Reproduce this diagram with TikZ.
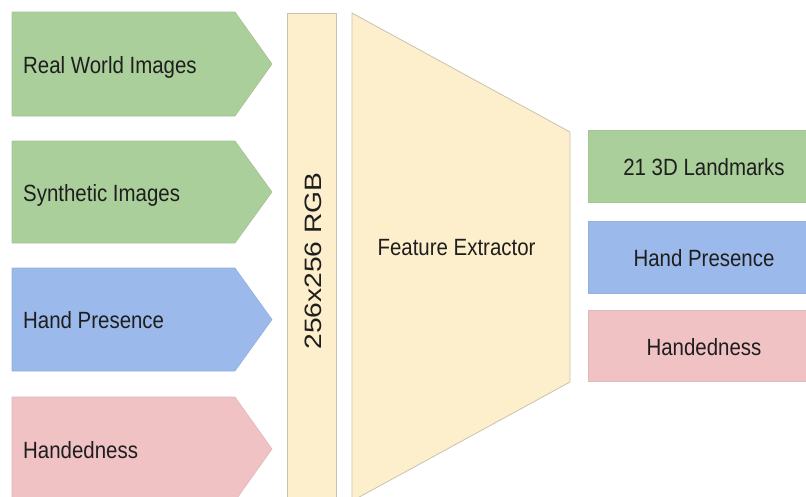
\documentclass[tikz,border=0pt]{standalone}
\usepackage{fontspec}
\setmainfont{Liberation Sans}
\usepackage{graphicx}
\definecolor{gfill}{HTML}{AACF9B}
\definecolor{bfill}{HTML}{9BB9EA}
\definecolor{pfill}{HTML}{F0C2C4}
\definecolor{yfill}{HTML}{FDEFCC}
\definecolor{yedge}{HTML}{C9C2B0}
\definecolor{textc}{HTML}{1E1E1E}
\newcommand\nrw[1]{\scalebox{0.87}[1]{#1}}
\begin{document}
\begin{tikzpicture}[x=1pt,y=-1pt,
  garrow/.style={fill=gfill,draw=gfill!85!gray,line width=0.6pt},
  barrow/.style={fill=bfill,draw=bfill!85!gray,line width=0.6pt},
  parrow/.style={fill=pfill,draw=pfill!85!gray,line width=0.6pt},
  yshape/.style={fill=yfill,draw=yedge,line width=0.8pt},
  lbl/.style={font=\fontsize{23.5}{28}\selectfont,text=textc,inner sep=0pt}]
\useasboundingbox (0,0) rectangle (806,496);
\clip (0,0) rectangle (806,496);
% input arrows
\path[garrow] (12,12) -- (235,12) -- (272,64) -- (235,116) -- (12,116) -- cycle;
\path[garrow] (12,141) -- (235,141) -- (272,192) -- (235,243) -- (12,243) -- cycle;
\path[barrow] (12,268) -- (235,268) -- (272,319.5) -- (235,371) -- (12,371) -- cycle;
\path[parrow] (12,397) -- (235,397) -- (272,449) -- (235,501) -- (12,501) -- cycle;
\node[lbl,anchor=base west] (t1) at (23,73) {\nrw{Real World Images}};
\node[lbl,anchor=base west] (t2) at (23,201) {\nrw{Synthetic Images}};
\node[lbl,anchor=base west] (t3) at (23,328.5) {\nrw{Hand Presence}};
\node[lbl,anchor=base west] (t4) at (23,458) {\nrw{Handedness}};
% RGB bar
\path[yshape] (287,13) rectangle (336,510);
\node[lbl,rotate=90,font=\fontsize{28.2}{32}\selectfont] (rgb) at (313.5,261) {\scalebox{1}[0.84]{256x256 RGB}};
% feature extractor
\path[yshape] (352,13) -- (570,132) -- (570,382) -- (352,501) -- cycle;
\node[lbl,anchor=base] (fe) at (456.5,255) {\nrw{Feature Extractor}};
% outputs
\path[garrow] (588,130) rectangle (820,202);
\path[barrow] (588,221) rectangle (820,293);
\path[parrow] (588,310) rectangle (820,381);
\node[lbl,anchor=base] (o1) at (704,175) {\nrw{21 3D Landmarks}};
\node[lbl,anchor=base] (o2) at (704,266) {\nrw{Hand Presence}};
\node[lbl,anchor=base] (o3) at (704,355) {\nrw{Handedness}};
\end{tikzpicture}
\end{document}
